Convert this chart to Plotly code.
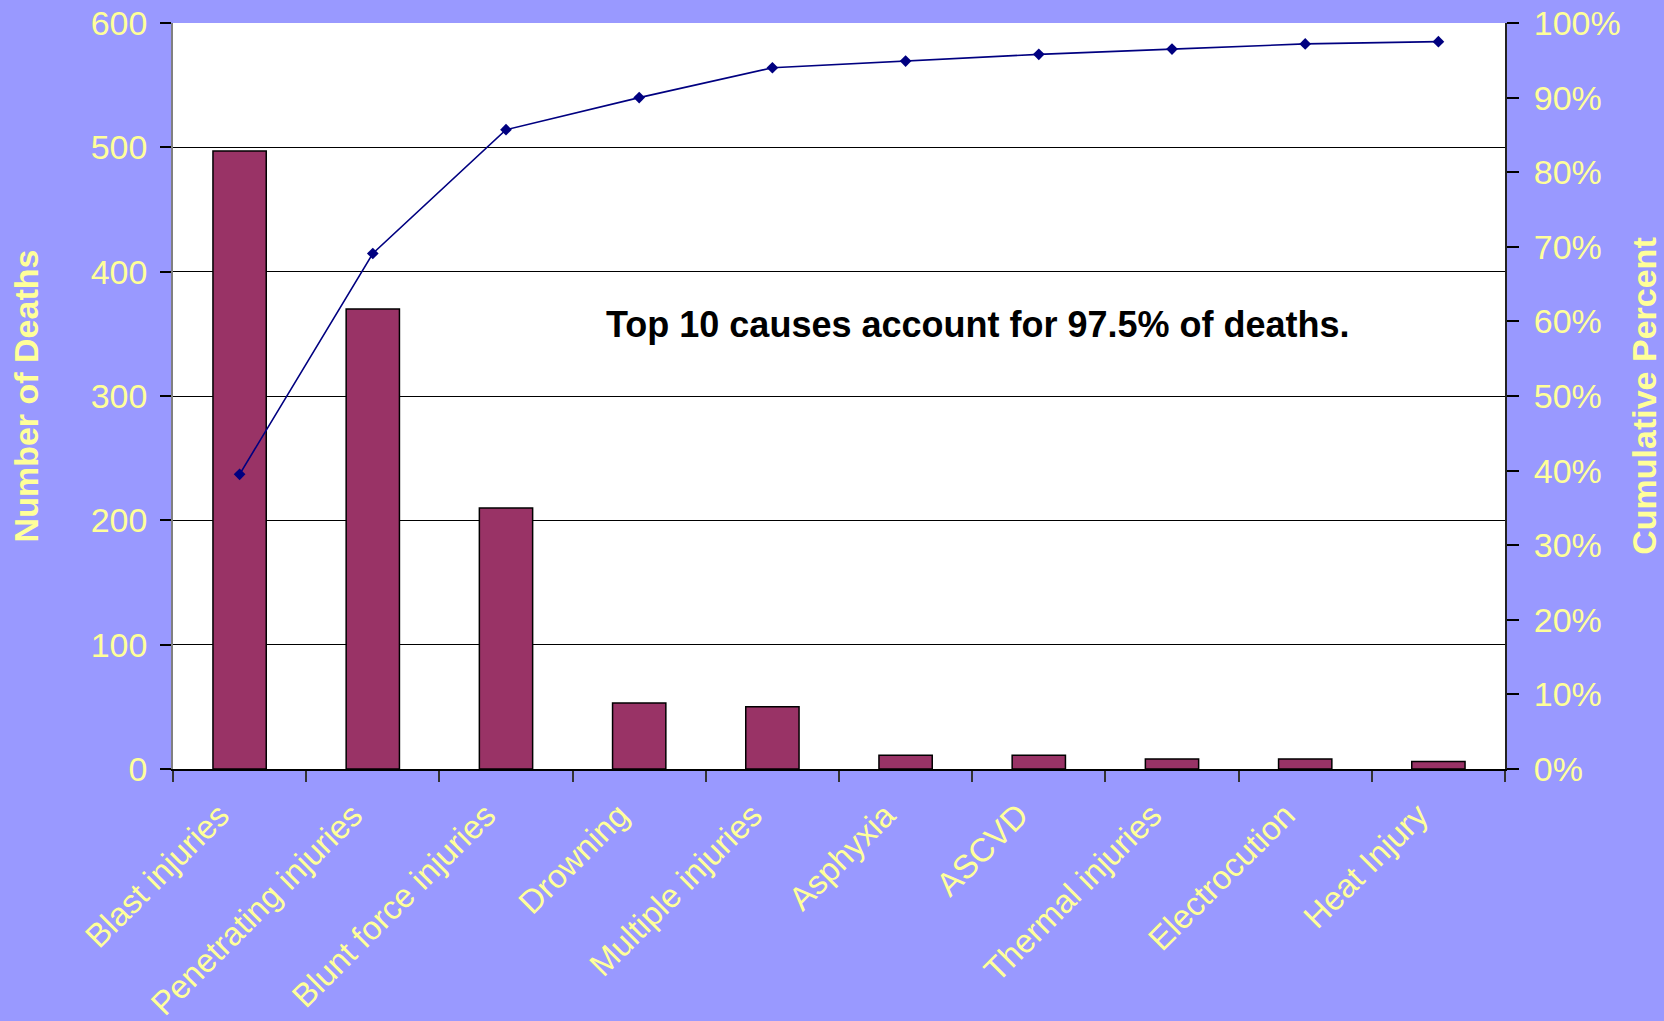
import plotly.graph_objects as go

# Causes of death, sorted by count (Pareto order)
causes = [
    "Blast injuries", "Penetrating injuries", "Blunt force injuries", "Drowning",
    "Multiple injuries", "Asphyxia", "ASCVD", "Thermal injuries",
    "Electrocution", "Heat Injury",
]
deaths = [497, 370, 210, 53, 50, 11, 11, 8, 8, 6]
cumulative_pct = [0.395, 0.691, 0.857, 0.900, 0.940, 0.949, 0.958, 0.965, 0.972, 0.975]

count_ticks = [0, 100, 200, 300, 400, 500, 600]
pct_ticks = [i / 10 for i in range(11)]

BG = "#9999FF"
TXT = "#FFFF99"
FONT = "Liberation Sans, Arial, sans-serif"
TICK_SIZE = 34

fig = go.Figure()

fig.add_trace(go.Bar(
    x=causes, y=deaths,
    marker=dict(color="#993366", line=dict(color="#000000", width=1.5)),
    width=0.4,
    xaxis="x", yaxis="y",
    showlegend=False,
))

fig.add_trace(go.Scatter(
    x=causes, y=cumulative_pct,
    mode="lines+markers",
    line=dict(color="#000080", width=1.6),
    marker=dict(symbol="diamond", size=9, color="#000080"),
    xaxis="x", yaxis="y2",
    showlegend=False,
))

n = len(causes)
boundaries = [i - 0.5 for i in range(n + 1)]

fig.update_layout(
    width=1664, height=1021,
    margin=dict(l=173, r=159, t=23, b=252),
    paper_bgcolor=BG,
    plot_bgcolor="#FFFFFF",
    font=dict(family=FONT, color=TXT, size=TICK_SIZE),
    xaxis=dict(
        type="category",
        categoryorder="array", categoryarray=causes,
        range=[-0.5, n - 0.5],
        tickson="boundaries",
        ticks="outside", ticklen=11, tickwidth=1.5, tickcolor="#333333",
        tickangle=-45,
        ticklabelshift=-20, ticklabelstandoff=12,
        tickfont=dict(size=33, color=TXT),
        showline=True, linecolor="#000000", linewidth=1.5,
        showgrid=False, automargin=False,
    ),
    # inner half of the crossing category ticks
    xaxis2=dict(
        overlaying="x", anchor="y",
        range=[-0.5, n - 0.5],
        tickvals=boundaries,
        ticks="inside", ticklen=11, tickwidth=1.5, tickcolor="#333333",
        showticklabels=False, showgrid=False, showline=False, zeroline=False,
        automargin=False,
    ),
    yaxis=dict(
        range=[0, 600],
        tickvals=count_ticks,
        ticks="outside", ticklen=11, tickwidth=1.5, tickcolor="#000000",
        ticklabelstandoff=6,
        tickfont=dict(size=TICK_SIZE, color=TXT),
        showgrid=True, gridcolor="#000000", gridwidth=1.2,
        showline=True, linecolor="#808080", linewidth=1.5,
        zeroline=False, automargin=False,
        title=dict(text="<b>Number of Deaths</b>", font=dict(size=34, color=TXT), standoff=42),
    ),
    yaxis2=dict(
        overlaying="y", side="right", anchor="x",
        range=[0, 1],
        tickvals=pct_ticks, tickformat=".0%",
        ticks="outside", ticklen=12, tickwidth=1.5, tickcolor="#000000",
        ticklabelstandoff=8,
        tickfont=dict(size=TICK_SIZE, color=TXT),
        showgrid=False, zeroline=False,
        showline=True, linecolor="#222222", linewidth=2,
        automargin=False,
        title=dict(text="<b>Cumulative Percent</b>", font=dict(size=34, color=TXT), standoff=12),
    ),
    # inner half of the crossing percent ticks
    yaxis3=dict(
        overlaying="y", side="right", anchor="x",
        range=[0, 1],
        tickvals=pct_ticks,
        ticks="inside", ticklen=12, tickwidth=1.5, tickcolor="#000000",
        showticklabels=False, showgrid=False, zeroline=False, showline=False,
        automargin=False,
    ),
    annotations=[dict(
        text="<b>Top 10 causes account for 97.5% of deaths.</b>",
        xref="paper", yref="paper", x=0.604, y=0.5965,
        showarrow=False,
        font=dict(family=FONT, size=36, color="#000000"),
    )],
)

fig.write_html("out.html")
